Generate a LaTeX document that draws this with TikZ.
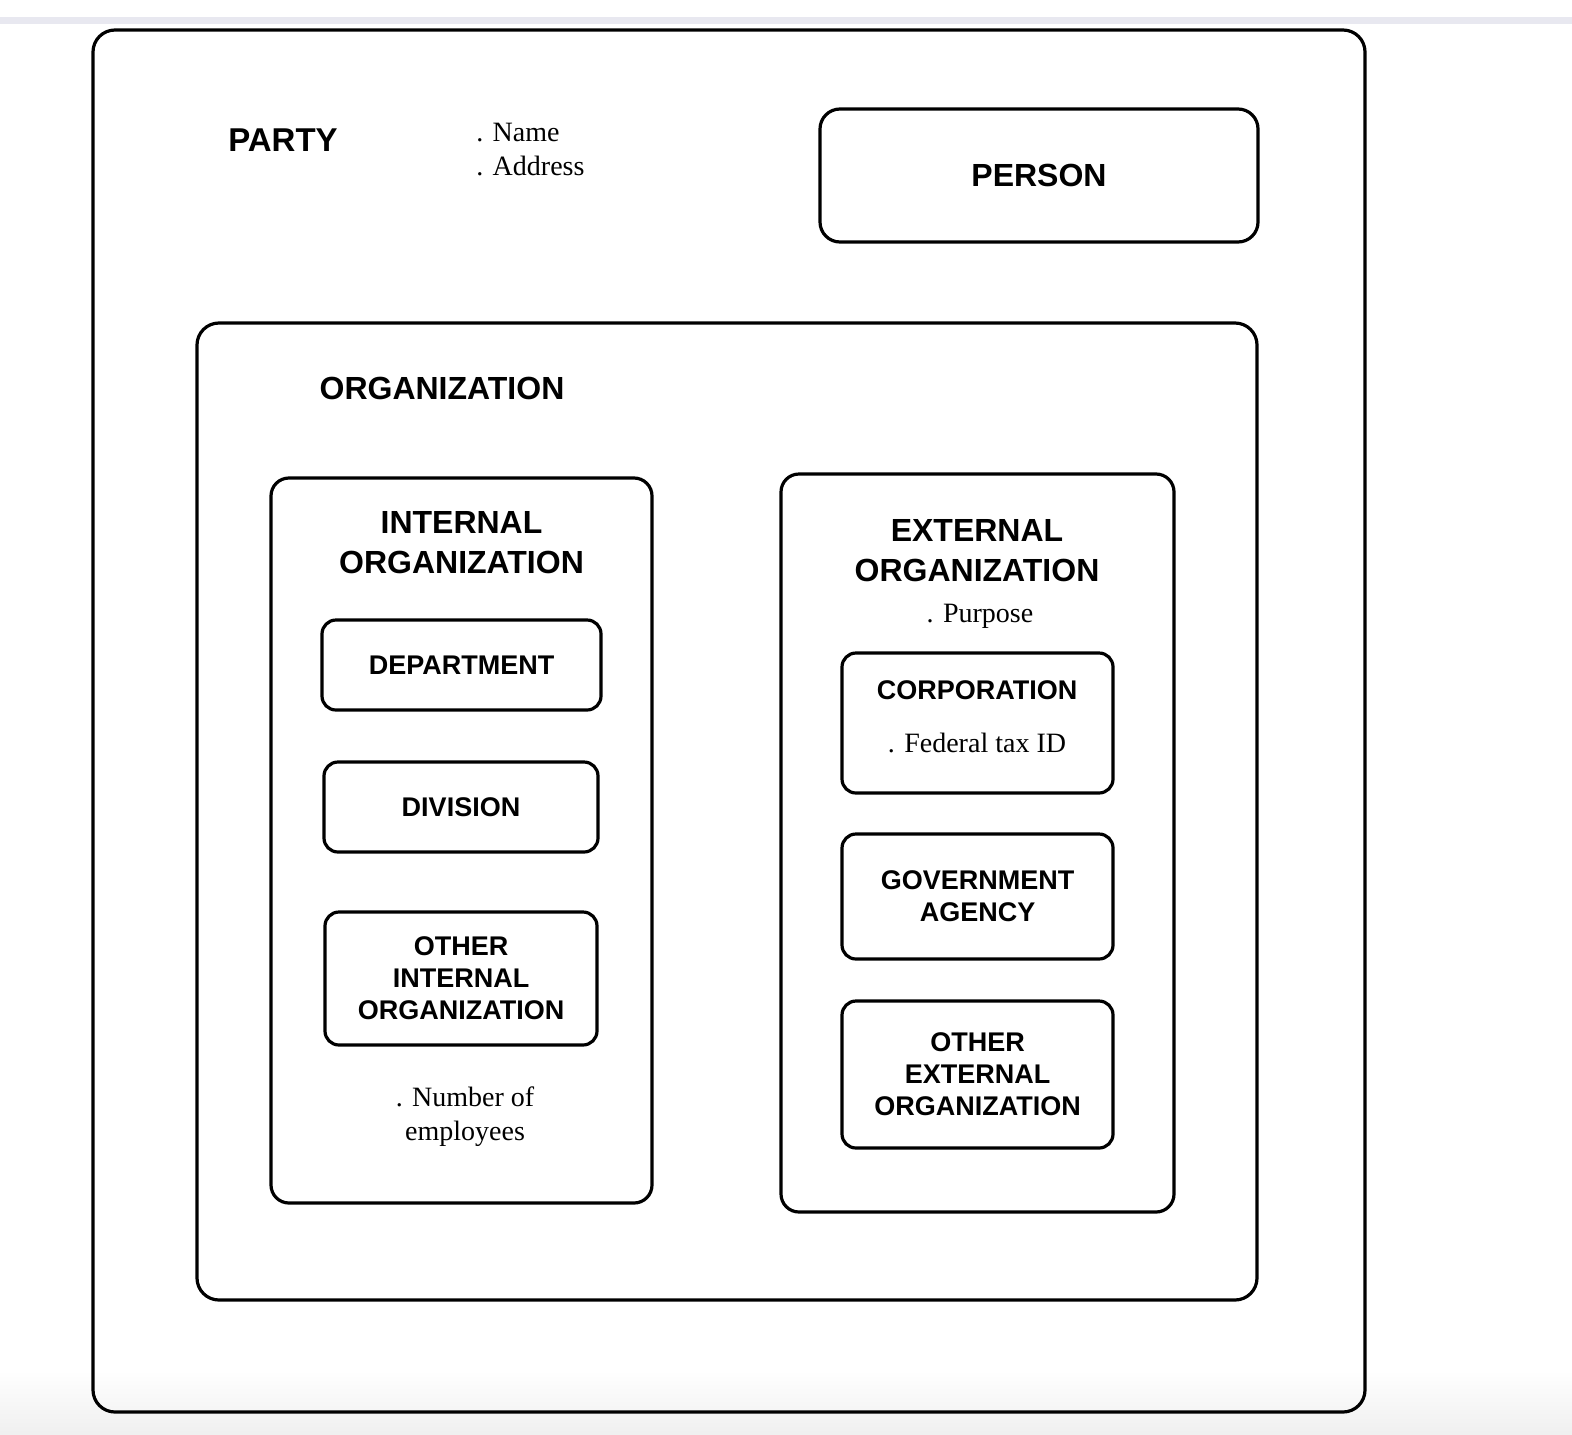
\documentclass[tikz,border=0pt]{standalone}
\usepackage{fontspec}
\setmainfont{Liberation Serif}
\setsansfont{Liberation Sans}
\begin{document}
\begin{tikzpicture}[x=0.5pt,y=-0.5pt,
  box/.style={draw=black, line width=1.6pt, rounded corners=#1, inner sep=0pt, fill=none},
  box/.default=7pt,
  head/.style={font=\sffamily\bfseries\fontsize{16}{20}\selectfont, align=center, inner sep=0pt},
  sub/.style={font=\sffamily\bfseries\fontsize{13.5}{16}\selectfont, align=center, inner sep=0pt},
  attr/.style={font=\fontsize{14}{17}\selectfont, align=center, inner sep=0pt}]
\useasboundingbox (0,0) rectangle (1572,1434);
\fill[white] (0,0) rectangle (1572,1434);
\fill[color={rgb,1:red,0.91;green,0.91;blue,0.94}] (0,17) rectangle (1572,24);
\shade[top color=white, bottom color=black!6] (0,1370) rectangle (1572,1434);
% boxes
\node[box=11pt, minimum width=636pt, minimum height=691pt] (party) at (729,721) {};
\node[box=10pt, minimum width=219pt, minimum height=66.5pt, head] (person) at (1039,175.5) {PERSON};
\node[box=11pt, minimum width=530pt, minimum height=488.5pt] (org) at (727,811.5) {};
\node[box=9pt, minimum width=190.5pt, minimum height=362.5pt] (intorg) at (461.5,840.5) {};
\node[box=9pt, minimum width=196.5pt, minimum height=369pt] (extorg) at (977.5,843) {};
\node[box, minimum width=139.5pt, minimum height=45pt, sub] (dept) at (461.5,665) {DEPARTMENT};
\node[box, minimum width=137pt, minimum height=45pt, sub] (div) at (461,807) {DIVISION};
\node[box, minimum width=136pt, minimum height=66.5pt, sub] (othint) at (461,978.5) {OTHER\\INTERNAL\\ORGANIZATION};
\node[box, minimum width=135.5pt, minimum height=70pt] (corp) at (977.5,723) {};
\node[box, minimum width=135.5pt, minimum height=62.5pt, sub] (gov) at (977.5,896.5) {GOVERNMENT\\AGENCY};
\node[box, minimum width=135.5pt, minimum height=73.5pt, sub] (othext) at (977.5,1074.5) {OTHER\\EXTERNAL\\ORGANIZATION};
% labels
\node[head, font=\sffamily\bfseries\fontsize{16.5}{20}\selectfont] (partyl) at (283,140) {PARTY};
\node[attr, anchor=west, align=left] (partya) at (476,150) {. Name\\. Address};
\node[head] (orgl) at (442,388) {ORGANIZATION};
\node[head] (intl) at (461.5,543) {INTERNAL\\ORGANIZATION};
\node[head] (extl) at (977,551) {EXTERNAL\\ORGANIZATION};
\node[attr] (purp) at (980,616) {. Purpose};
\node[sub] (corpl) at (977,690) {CORPORATION};
\node[attr] (fed) at (977,743) {. Federal tax ID};
\node[attr] (numemp) at (465,1117) {. Number of\\employees};
\end{tikzpicture}
\end{document}
